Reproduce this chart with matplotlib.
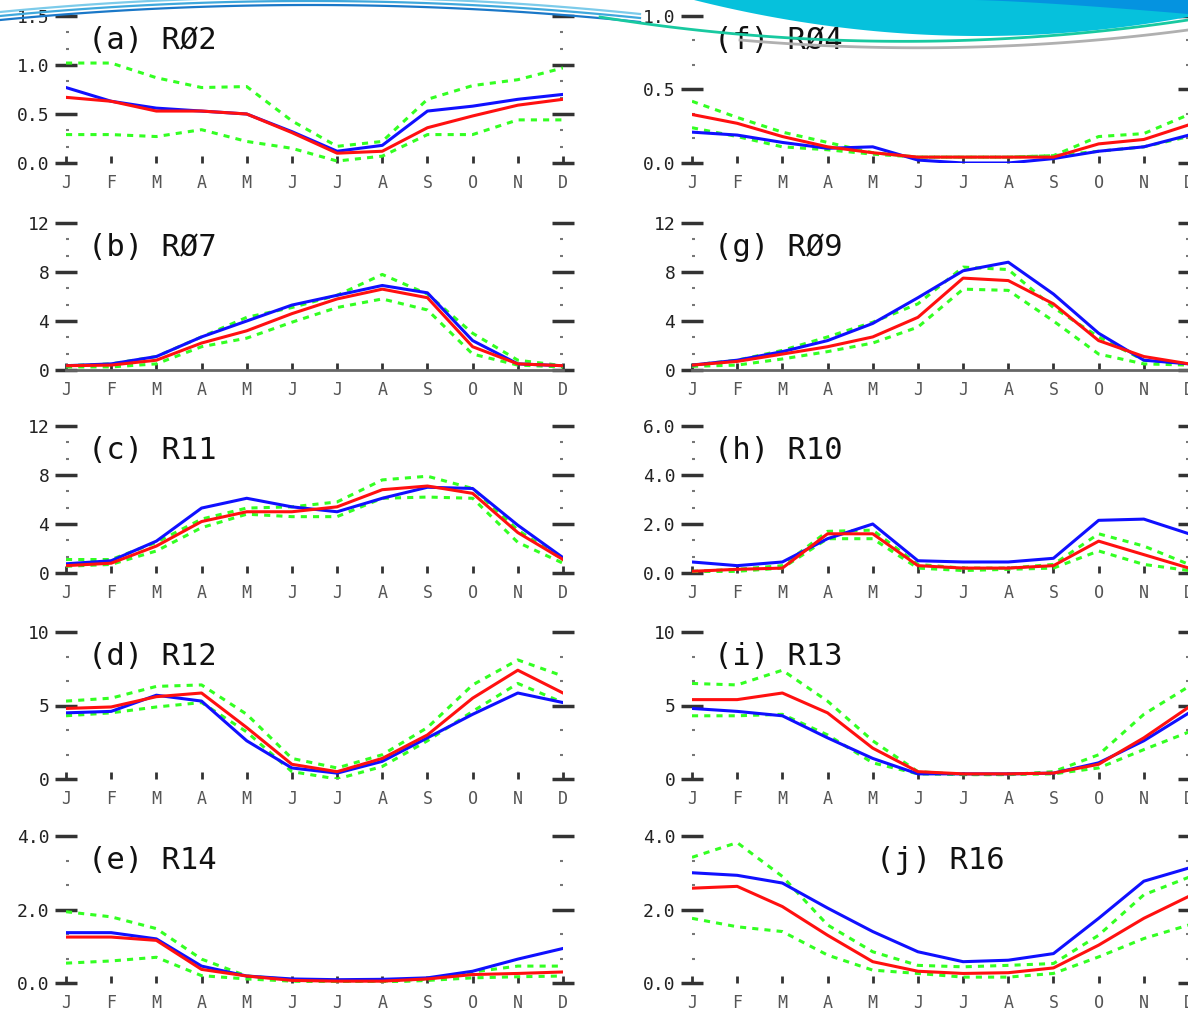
import numpy as np
import matplotlib.pyplot as plt
from matplotlib.lines import Line2D
from matplotlib.patches import Polygon
from matplotlib.ticker import MultipleLocator

months = ['J', 'F', 'M', 'A', 'M', 'J', 'J', 'A', 'S', 'O', 'N', 'D']

# (a) R02
a_blue = [0.77, 0.63, 0.56, 0.53, 0.50, 0.32, 0.12, 0.18, 0.53, 0.58, 0.65, 0.70]
a_red = [0.67, 0.63, 0.53, 0.53, 0.50, 0.31, 0.10, 0.12, 0.36, 0.48, 0.59, 0.65]
a_gup = [1.02, 1.02, 0.87, 0.77, 0.78, 0.43, 0.17, 0.22, 0.65, 0.79, 0.85, 0.97]
a_glo = [0.29, 0.29, 0.27, 0.34, 0.22, 0.15, 0.02, 0.07, 0.29, 0.29, 0.44, 0.44]
# (b) R07
b_blue = [0.35, 0.5, 1.1, 2.7, 4.0, 5.3, 6.1, 6.9, 6.3, 2.4, 0.5, 0.35]
b_red = [0.35, 0.4, 0.8, 2.2, 3.2, 4.6, 5.8, 6.6, 5.9, 1.9, 0.5, 0.35]
b_gup = [0.35, 0.5, 1.1, 2.7, 4.3, 5.1, 6.1, 7.8, 6.2, 3.0, 0.8, 0.35]
b_glo = [0.25, 0.25, 0.5, 1.9, 2.6, 3.9, 5.1, 5.8, 4.9, 1.3, 0.4, 0.25]
# (c) R11
c_blue = [0.75, 1.0, 2.6, 5.3, 6.1, 5.4, 5.0, 6.1, 7.0, 6.9, 3.9, 1.25]
c_red = [0.6, 0.8, 2.2, 4.2, 5.0, 5.0, 5.4, 6.8, 7.1, 6.5, 3.3, 1.1]
c_gup = [1.1, 1.1, 2.5, 4.4, 5.3, 5.4, 5.8, 7.6, 7.9, 6.9, 3.5, 1.1]
c_glo = [0.55, 0.7, 1.8, 3.7, 4.8, 4.6, 4.6, 6.1, 6.2, 6.1, 2.5, 0.8]
# (d) R12
d_blue = [4.5, 4.6, 5.7, 5.3, 2.6, 0.75, 0.4, 1.2, 2.8, 4.4, 5.85, 5.2]
d_red = [4.8, 4.9, 5.6, 5.85, 3.5, 1.0, 0.5, 1.4, 3.0, 5.5, 7.4, 5.85]
d_gup = [5.3, 5.5, 6.3, 6.4, 4.4, 1.4, 0.75, 1.65, 3.5, 6.4, 8.1, 7.0]
d_glo = [4.3, 4.5, 4.9, 5.2, 3.2, 0.5, 0.0, 0.85, 2.6, 4.6, 6.5, 5.2]
# (e) R14
e_blue = [1.37, 1.37, 1.2, 0.46, 0.19, 0.11, 0.09, 0.10, 0.14, 0.32, 0.65, 0.94]
e_red = [1.25, 1.25, 1.16, 0.37, 0.19, 0.07, 0.05, 0.05, 0.11, 0.23, 0.26, 0.30]
e_gup = [1.94, 1.8, 1.48, 0.65, 0.19, 0.09, 0.05, 0.05, 0.11, 0.30, 0.46, 0.46]
e_glo = [0.54, 0.6, 0.7, 0.2, 0.11, 0.05, 0.02, 0.02, 0.07, 0.14, 0.17, 0.19]
# (f) R04
f_blue = [0.21, 0.19, 0.14, 0.10, 0.11, 0.02, 0.0, 0.0, 0.03, 0.08, 0.11, 0.19]
f_red = [0.33, 0.27, 0.18, 0.11, 0.07, 0.04, 0.04, 0.04, 0.04, 0.13, 0.16, 0.26]
f_gup = [0.42, 0.31, 0.21, 0.14, 0.07, 0.04, 0.04, 0.04, 0.05, 0.18, 0.20, 0.33]
f_glo = [0.24, 0.18, 0.11, 0.09, 0.06, 0.04, 0.04, 0.04, 0.05, 0.08, 0.11, 0.18]
# (g) R09
g_blue = [0.4, 0.8, 1.5, 2.4, 3.8, 5.9, 8.1, 8.8, 6.2, 3.0, 0.8, 0.5]
g_red = [0.4, 0.7, 1.3, 1.9, 2.7, 4.3, 7.5, 7.3, 5.4, 2.4, 1.1, 0.5]
g_gup = [0.4, 0.8, 1.6, 2.7, 3.9, 5.4, 8.4, 8.2, 5.1, 2.7, 0.8, 0.5]
g_glo = [0.3, 0.4, 0.9, 1.5, 2.2, 3.5, 6.6, 6.5, 4.0, 1.3, 0.5, 0.4]
# (h) R10
h_blue = [0.45, 0.3, 0.45, 1.4, 2.0, 0.5, 0.45, 0.45, 0.6, 2.15, 2.2, 1.6]
h_red = [0.07, 0.15, 0.2, 1.6, 1.6, 0.3, 0.2, 0.2, 0.3, 1.3, 0.75, 0.2]
h_gup = [0.07, 0.15, 0.3, 1.7, 1.75, 0.35, 0.2, 0.2, 0.35, 1.6, 1.1, 0.35]
h_glo = [0.03, 0.07, 0.2, 1.4, 1.4, 0.2, 0.1, 0.15, 0.2, 0.9, 0.35, 0.1]
# (i) R13
i_blue = [4.8, 4.6, 4.3, 2.8, 1.4, 0.35, 0.35, 0.35, 0.4, 1.1, 2.6, 4.5]
i_red = [5.4, 5.4, 5.85, 4.5, 2.1, 0.5, 0.35, 0.35, 0.4, 1.0, 2.8, 4.9]
i_gup = [6.5, 6.4, 7.4, 5.3, 2.6, 0.5, 0.3, 0.3, 0.5, 1.65, 4.4, 6.3]
i_glo = [4.3, 4.3, 4.4, 3.0, 1.1, 0.35, 0.3, 0.3, 0.35, 0.75, 2.0, 3.2]
# (j) R16
j_blue = [3.0, 2.93, 2.72, 2.04, 1.4, 0.85, 0.58, 0.62, 0.8, 1.76, 2.77, 3.13]
j_red = [2.58, 2.63, 2.08, 1.3, 0.58, 0.32, 0.26, 0.28, 0.41, 1.03, 1.76, 2.36]
j_gup = [3.42, 3.82, 2.9, 1.58, 0.85, 0.48, 0.44, 0.48, 0.53, 1.3, 2.4, 2.88]
j_glo = [1.76, 1.53, 1.4, 0.76, 0.35, 0.26, 0.16, 0.16, 0.26, 0.71, 1.21, 1.58]

W, H = 1188, 1021
fig = plt.figure(figsize=(W / 100, H / 100), dpi=100)
fig.patch.set_facecolor('white')


# slide decoration at the top (pixel coords -> figure fraction)
def px(xx, yy):
    return np.asarray(xx) / W, 1 - np.asarray(yy) / H


def curve(x0, x1, anchors):
    p = np.polyfit([a[0] for a in anchors], [a[1] for a in anchors], 2)
    xx = np.linspace(x0, x1, 120)
    return xx, np.polyval(p, xx)


# left thin arcs
for off, col in [(0, '#7ccbea'), (4, '#3fa8dc'), (8, '#1a78c8')]:
    xx, yy = curve(0, 640, [(0, 12 + off), (310, -3 + off), (620, 12 + off)])
    fig.add_artist(Line2D(*px(xx, yy), color=col, lw=1.6))

# right filled swoosh
xx, yy = curve(694, W, [(694, 0), (975, 36), (1188, 17)])
fx, fy = px(np.r_[xx, W, 694], np.r_[yy, 0, 0])
fig.add_artist(Polygon(np.c_[fx, fy], closed=True, facecolor='#06c1dc', edgecolor='none'))
xx = np.linspace(975, W, 40)
yy = 14 * ((xx - 975) / (W - 975)) ** 1.3
fx, fy = px(np.r_[xx, W, 975], np.r_[yy, 0, 0])
fig.add_artist(Polygon(np.c_[fx, fy], closed=True, facecolor='#0593e0', edgecolor='none'))
xx, yy = curve(600, W, [(600, 17), (975, 40), (1188, 20)])
fig.add_artist(Line2D(*px(xx, yy), color='#18c9a0', lw=2))
xx, yy = curve(740, W, [(740, 40), (975, 47), (1188, 30)])
fig.add_artist(Line2D(*px(xx, yy), color='#b0b0b0', lw=2))

panels = [
    # label, blue, red, upper, lower, ymax, major step, tick labels, column, row
    ('(a) RØ2', a_blue, a_red, a_gup, a_glo, 1.5, 0.5, ['0.0', '0.5', '1.0', '1.5'], 0, 0),
    ('(b) RØ7', b_blue, b_red, b_gup, b_glo, 12, 4, ['0', '4', '8', '12'], 0, 1),
    ('(c) R11', c_blue, c_red, c_gup, c_glo, 12, 4, ['0', '4', '8', '12'], 0, 2),
    ('(d) R12', d_blue, d_red, d_gup, d_glo, 10, 5, ['0', '5', '10'], 0, 3),
    ('(e) R14', e_blue, e_red, e_gup, e_glo, 4, 2, ['0.0', '2.0', '4.0'], 0, 4),
    ('(f) RØ4', f_blue, f_red, f_gup, f_glo, 1.0, 0.5, ['0.0', '0.5', '1.0'], 1, 0),
    ('(g) RØ9', g_blue, g_red, g_gup, g_glo, 12, 4, ['0', '4', '8', '12'], 1, 1),
    ('(h) R10', h_blue, h_red, h_gup, h_glo, 6, 2, ['0.0', '2.0', '4.0', '6.0'], 1, 2),
    ('(i) R13', i_blue, i_red, i_gup, i_glo, 10, 5, ['0', '5', '10'], 1, 3),
    ('(j) R16', j_blue, j_red, j_gup, j_glo, 4, 2, ['0.0', '2.0', '4.0'], 1, 4),
]

x_left = [66, 692]
x_width = 497
y_zero = [163, 370, 573, 779, 983]
y_height = 147

x = np.arange(12)
for lab, blue, red, gup, glo, ymax, major, tl, col, row in panels:
    ax = fig.add_axes([x_left[col] / W, (H - y_zero[row]) / H, x_width / W, y_height / H])
    ax.set_facecolor('none')
    ax.plot(x, gup, color='#33ff22', lw=2.2, ls=(0, (2, 2)))
    ax.plot(x, glo, color='#33ff22', lw=2.2, ls=(0, (2, 2)))
    ax.plot(x, blue, color='#1010ff', lw=2.2)
    ax.plot(x, red, color='#ff1010', lw=2.2)
    ax.set_xlim(0, 11)
    ax.set_ylim(0, ymax)
    ax.set_yticks(np.arange(0, ymax + major / 2, major))
    ax.set_yticklabels(tl, family='DejaVu Sans Mono', fontsize=13, color='#222222')
    ax.yaxis.set_minor_locator(MultipleLocator(major / 3))
    ax.set_xticks(x)
    ax.set_xticklabels(months, family='DejaVu Sans Mono', fontsize=12, color='#555555')
    ax.tick_params(axis='y', which='major', direction='inout', length=16, width=2.5,
                   color='#333333', right=True, left=True, pad=4)
    ax.tick_params(axis='y', which='minor', direction='in', length=2, width=1.5,
                   color='#777777', right=True, left=True)
    ax.tick_params(axis='x', direction='in', length=5, width=2, color='#333333', pad=8)
    for s in ['top', 'left', 'right']:
        ax.spines[s].set_visible(False)
    if row == 1:
        ax.spines['bottom'].set_color('#666666')
        ax.spines['bottom'].set_linewidth(2)
    else:
        ax.spines['bottom'].set_visible(False)
    if lab.startswith('(j)'):
        ax.text(0.5, 0.83, lab, transform=ax.transAxes, ha='center', va='center',
                family='DejaVu Sans Mono', fontsize=22, color='#111111')
    else:
        ax.text(0.045, 0.83, lab, transform=ax.transAxes, ha='left', va='center',
                family='DejaVu Sans Mono', fontsize=22, color='#111111')

fig.savefig('out.png', dpi=100)
